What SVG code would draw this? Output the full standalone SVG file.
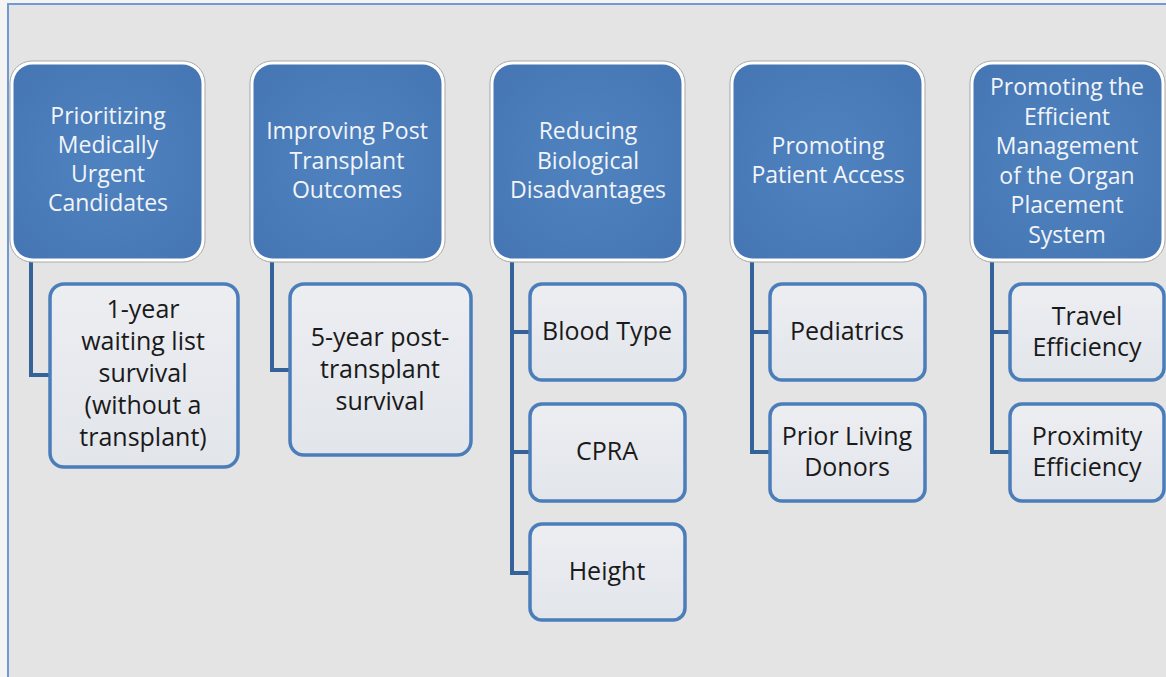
<svg xmlns="http://www.w3.org/2000/svg" width="1166" height="677" viewBox="0 0 1166 677">
<defs>
<linearGradient id="childFill" x1="0" y1="0" x2="0" y2="1">
<stop offset="0" stop-color="#eceef2"/>
<stop offset="1" stop-color="#e2e5ea"/>
</linearGradient>
<radialGradient id="parentFill" cx="0.5" cy="0.5" r="0.7">
<stop offset="0" stop-color="#4f83c0"/>
<stop offset="1" stop-color="#4576b3"/>
</radialGradient>
<style>
.rim{fill:#ffffff;stroke:#a9a9a9;stroke-width:1}
.pbox{fill:url(#parentFill)}
.cbox{fill:url(#childFill);stroke:#4a7dba;stroke-width:3.5}
.ptxt{font-family:"Open Sans","Liberation Sans",sans-serif;font-size:23px;fill:#f2f4f8;text-anchor:middle}
.ctxt{font-family:"Open Sans","Liberation Sans",sans-serif;font-size:25px;fill:#1a1a1a;text-anchor:middle}
.conn{fill:none;stroke:#36629a;stroke-width:4;stroke-linejoin:miter}
</style>
</defs>
<rect x="0" y="0" width="1166" height="677" fill="#f4f4f4"/>
<rect x="8" y="4" width="1158" height="673" fill="#e4e4e4"/>
<path d="M8 677 V4 H1166" fill="none" stroke="#6f9bd2" stroke-width="2"/>

<g id="connectors">
<path class="conn" d="M31 262 V375 H50"/>
<path class="conn" d="M272 262 V370 H290"/>
<path class="conn" d="M512 262 V573 H530 M512 332 H530 M512 452 H530"/>
<path class="conn" d="M752 262 V452 H770 M752 332 H770"/>
<path class="conn" d="M992 262 V452 H1010 M992 332 H1010"/>
</g>

<g id="p1">
<rect class="rim" x="10" y="61" width="195" height="201" rx="22"/>
<rect class="pbox" x="13.5" y="64.5" width="188" height="194" rx="19"/>
<text class="ptxt" x="108" y="124">Prioritizing</text>
<text class="ptxt" x="108" y="153">Medically</text>
<text class="ptxt" x="108" y="182">Urgent</text>
<text class="ptxt" x="108" y="211">Candidates</text>
</g>
<g id="p2">
<rect class="rim" x="250" y="61" width="195" height="201" rx="22"/>
<rect class="pbox" x="253.5" y="64.5" width="188" height="194" rx="19"/>
<text class="ptxt" x="347" y="139">Improving Post</text>
<text class="ptxt" x="347" y="168.5">Transplant</text>
<text class="ptxt" x="347" y="198">Outcomes</text>
</g>
<g id="p3">
<rect class="rim" x="490" y="61" width="195" height="201" rx="22"/>
<rect class="pbox" x="493.5" y="64.5" width="188" height="194" rx="19"/>
<text class="ptxt" x="588" y="139">Reducing</text>
<text class="ptxt" x="588" y="168.5">Biological</text>
<text class="ptxt" x="588" y="198">Disadvantages</text>
</g>
<g id="p4">
<rect class="rim" x="730" y="61" width="195" height="201" rx="22"/>
<rect class="pbox" x="733.5" y="64.5" width="188" height="194" rx="19"/>
<text class="ptxt" x="828" y="154">Promoting</text>
<text class="ptxt" x="828" y="183">Patient Access</text>
</g>
<g id="p5">
<rect class="rim" x="970" y="61" width="195" height="201" rx="22"/>
<rect class="pbox" x="973.5" y="64.5" width="188" height="194" rx="19"/>
<text class="ptxt" x="1067" y="95">Promoting the</text>
<text class="ptxt" x="1067" y="124.5">Efficient</text>
<text class="ptxt" x="1067" y="154">Management</text>
<text class="ptxt" x="1067" y="183.5">of the Organ</text>
<text class="ptxt" x="1067" y="213">Placement</text>
<text class="ptxt" x="1067" y="242.5">System</text>
</g>

<g id="c1">
<rect class="cbox" x="50" y="284" width="188" height="183" rx="14"/>
<text class="ctxt" x="143" y="318">1-year</text>
<text class="ctxt" x="143" y="350">waiting list</text>
<text class="ctxt" x="143" y="382">survival</text>
<text class="ctxt" x="143" y="414">(without a</text>
<text class="ctxt" x="143" y="446">transplant)</text>
</g>
<g id="c2">
<rect class="cbox" x="290" y="284" width="181" height="171" rx="14"/>
<text class="ctxt" x="380" y="346">5-year post-</text>
<text class="ctxt" x="380" y="378">transplant</text>
<text class="ctxt" x="380" y="410">survival</text>
</g>
<g id="c3a">
<rect class="cbox" x="530" y="284" width="155" height="96" rx="12"/>
<text class="ctxt" x="607" y="340">Blood Type</text>
</g>
<g id="c3b">
<rect class="cbox" x="530" y="404" width="155" height="97" rx="12"/>
<text class="ctxt" x="607" y="460">CPRA</text>
</g>
<g id="c3c">
<rect class="cbox" x="530" y="524" width="155" height="96" rx="12"/>
<text class="ctxt" x="607" y="580">Height</text>
</g>
<g id="c4a">
<rect class="cbox" x="770" y="284" width="155" height="96" rx="12"/>
<text class="ctxt" x="847" y="340">Pediatrics</text>
</g>
<g id="c4b">
<rect class="cbox" x="770" y="404" width="155" height="97" rx="12"/>
<text class="ctxt" x="847" y="445">Prior Living</text>
<text class="ctxt" x="847" y="476">Donors</text>
</g>
<g id="c5a">
<rect class="cbox" x="1010" y="284" width="154" height="96" rx="12"/>
<text class="ctxt" x="1087" y="325">Travel</text>
<text class="ctxt" x="1087" y="356">Efficiency</text>
</g>
<g id="c5b">
<rect class="cbox" x="1010" y="404" width="154" height="97" rx="12"/>
<text class="ctxt" x="1087" y="445">Proximity</text>
<text class="ctxt" x="1087" y="476">Efficiency</text>
</g>
</svg>
